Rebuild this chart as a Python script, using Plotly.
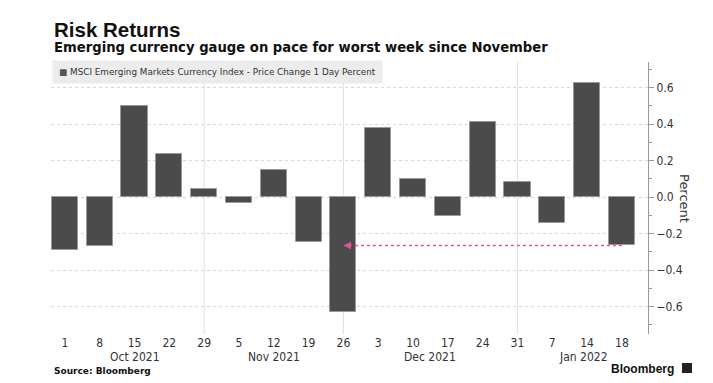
import plotly.graph_objects as go

days = ["1", "8", "15", "22", "29", "5", "12", "19", "26", "3", "10", "17", "24", "31", "7", "14", "18"]
values = [-0.29, -0.27, 0.50, 0.235, 0.045, -0.03, 0.15, -0.245, -0.63, 0.38, 0.10, -0.105, 0.41, 0.085, -0.14, 0.625, -0.265]
months = ["Oct 2021", "Nov 2021", "Dec 2021", "Jan 2022"]
month_pos = [2, 6, 10.5, 14.9]
month_lines = [4, 8, 13]
series_name = "MSCI Emerging Markets Currency Index - Price Change 1 Day Percent"

x = list(range(len(days)))
TICKFONT = "Liberation Sans Narrow, Arial Narrow, DejaVu Sans Condensed, sans-serif"
PINK = "#e0509c"

fig = go.Figure()
fig.add_trace(go.Bar(
    x=x, y=values, name=series_name, width=0.75,
    marker=dict(color="#4b4b4b", line=dict(color="#9a9a9a", width=1)),
    showlegend=False,
))

# dotted arrow from latest bar to the November low
last_i = len(values) - 1
low_i = values.index(min(values))
fig.add_trace(go.Scatter(
    x=[last_i, low_i + 0.1], y=[values[last_i], values[last_i]],
    mode="lines", line=dict(color=PINK, width=1.5, dash="dot"),
    hoverinfo="skip", showlegend=False,
))
fig.add_annotation(
    x=low_i, y=values[last_i], ax=low_i + 0.2, ay=values[last_i],
    axref="x", ayref="y", xref="x", yref="y", text="",
    showarrow=True, arrowhead=2, arrowsize=1, arrowwidth=1.5, arrowcolor=PINK,
)

for m in month_lines:
    fig.add_shape(type="line", xref="x", yref="paper", x0=m, x1=m, y0=0, y1=1,
                  line=dict(color="#e0e0e0", width=1), layer="below")

for name, pos in zip(months, month_pos):
    fig.add_annotation(x=pos, y=0, xref="x", yref="paper", yanchor="top",
                       yshift=-14, text=name, showarrow=False,
                       font=dict(family=TICKFONT, size=12, color="#333"))

fig.update_layout(
    width=713, height=383,
    margin=dict(l=51, r=65, t=62, b=49),
    paper_bgcolor="white", plot_bgcolor="white",
    bargap=0,
    xaxis=dict(
        range=[-0.4, 16.75], tickvals=x, ticktext=days,
        showgrid=False, zeroline=False, showline=False, ticks="",
        tickfont=dict(family=TICKFONT, size=12, color="#333"),
    ),
    yaxis=dict(
        side="right", range=[-0.75, 0.74], dtick=0.2, tick0=0,
        tickformat=".1f", ticks="outside", ticklen=5, tickcolor="#999",
        showline=True, linecolor="#999", linewidth=1,
        showgrid=True, gridcolor="#d8d8d8", griddash="dot", gridwidth=1,
        zeroline=False,
        minor=dict(dtick=0.1, ticks="outside", ticklen=3, tickcolor="#999", showgrid=False),
        tickfont=dict(family=TICKFONT, size=12, color="#333"),
    ),
    font=dict(family="DejaVu Sans, Verdana, sans-serif"),
)

# y-axis title reading top to bottom
fig.add_annotation(x=1, xref="paper", xshift=37, xanchor="center", y=0.5, yref="paper",
                   text="Percent", textangle=90, showarrow=False,
                   font=dict(family="DejaVu Sans, sans-serif", size=13, color="#333"))

# titles
fig.add_annotation(x=0, xref="paper", xshift=1, y=1, yref="paper", yshift=46,
                   xanchor="left", yanchor="top", text="<b>Risk Returns</b>", showarrow=False,
                   font=dict(family="Liberation Sans, Arial, sans-serif", size=20.5, color="#111"))
fig.add_annotation(x=0, xref="paper", xshift=1, y=1, yref="paper", yshift=24,
                   xanchor="left", yanchor="top",
                   text="<b>Emerging currency gauge on pace for worst week since November</b>",
                   showarrow=False,
                   font=dict(family="DejaVu Sans, Verdana, sans-serif", size=13.2, color="#111"))

# legend box
fig.add_annotation(x=0, xref="paper", xshift=1, y=1, yref="paper", yshift=2,
                   xanchor="left", yanchor="top",
                   text="<span style='color:#555'>■</span> " + series_name,
                   showarrow=False, bgcolor="#ececec", borderpad=6,
                   font=dict(family="DejaVu Sans, sans-serif", size=8.8, color="#333"))

# footer
fig.add_annotation(x=0, xref="paper", xshift=1, y=0, yref="paper", yshift=-30,
                   xanchor="left", yanchor="top", text="<b>Source: Bloomberg</b>",
                   showarrow=False,
                   font=dict(family="DejaVu Sans, sans-serif", size=9, color="#111"))
fig.add_annotation(x=1, xref="paper", xshift=28, y=0, yref="paper", yshift=-26,
                   xanchor="right", yanchor="top", text="<b>Bloomberg</b>",
                   showarrow=False,
                   font=dict(family="Liberation Sans, Arial, sans-serif", size=12, color="#111"))
fig.add_shape(type="rect", xref="paper", yref="paper",
              xsizemode="pixel", ysizemode="pixel", xanchor=1, yanchor=0,
              x0=34, x1=44, y0=-39, y1=-29,
              fillcolor="#222", line=dict(width=0))

fig.write_html("out.html", config={"displayModeBar": False},
               post_script="document.body.style.margin='0';")
